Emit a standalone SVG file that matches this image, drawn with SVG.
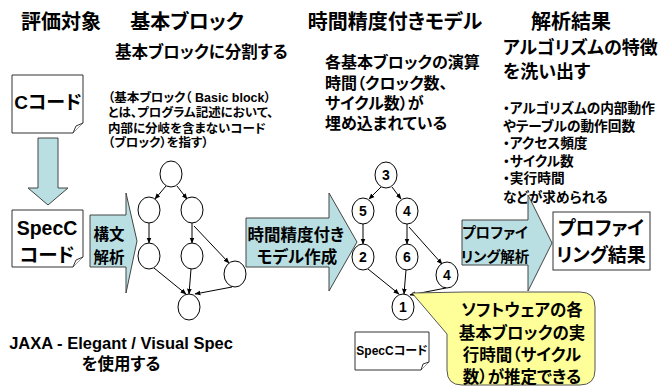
<svg xmlns="http://www.w3.org/2000/svg" width="664" height="389" viewBox="0 0 664 389">
<defs>
<marker id="ah" viewBox="0 0 10 10" refX="9" refY="5" markerWidth="6" markerHeight="6" orient="auto" markerUnits="userSpaceOnUse">
<path d="M0,1 L10,5 L0,9 Z" fill="#000"/>
</marker>
</defs>
<style>
text{font-family:"Liberation Sans","Noto Sans CJK JP",sans-serif;font-weight:bold;fill:#000;font-feature-settings:"palt"}
.c{text-anchor:middle}
.h{font-size:20px}
.doc{fill:#fff;stroke:#333;stroke-width:1}
.arr{fill:#b9dfe3;stroke:#444;stroke-width:1}
.bb{fill:#fff;stroke:#000;stroke-width:1}
.edge{stroke:#000;stroke-width:1;fill:none;marker-end:url(#ah)}
.num{font-size:14px;text-anchor:middle}
</style>
<rect width="664" height="389" fill="#fff"/>

<!-- headers -->
<text class="h c" x="61" y="29">評価対象</text>
<text class="h c" x="187" y="29">基本ブロック</text>
<text class="h c" x="395" y="29">時間精度付きモデル</text>
<text class="h c" x="571" y="29">解析結果</text>

<text x="115" y="58" font-size="16.5">基本ブロックに分割する</text>
<g font-size="12.5">
<text x="108" y="102">（基本ブロック（ Basic block）</text>
<text x="108" y="117">とは、プログラム記述において、</text>
<text x="108" y="133">内部に分岐を含まないコード</text>
<text x="108" y="147">（ブロック）を指す）</text>
</g>
<g font-size="16">
<text x="325" y="68">各基本ブロックの演算</text>
<text x="325" y="89">時間（クロック数、</text>
<text x="325" y="109">サイクル数）が</text>
<text x="325" y="129">埋め込まれている</text>
</g>
<g font-size="18">
<text x="503" y="54">アルゴリズムの特徴</text>
<text x="503" y="78">を洗い出す</text>
</g>
<g font-size="13.7">
<text x="503" y="113">・アルゴリズムの内部動作</text>
<text x="503" y="131">やテーブルの動作回数</text>
<text x="503" y="148">・アクセス頻度</text>
<text x="503" y="166">・サイクル数</text>
<text x="503" y="183">・実行時間</text>
<text x="503" y="202">などが求められる</text>
</g>
<g font-size="16.5">
<text class="c" x="121" y="349">JAXA - Elegant / Visual Spec</text>
<text class="c" x="121" y="370">を使用する</text>
</g>

<!-- documents -->
<g id="c-code">
<path class="doc" d="M12,75 H83 V123 L73,133 H12 Z"/>
<path class="doc" d="M73,133 L76,126 L83,123"/>
<text class="c" x="48" y="109" font-size="19">Cコード</text>
</g>
<g id="convert-arrow">
<path class="arr" d="M38,138 H58 V188 H68 L48,205 L28,188 H38 Z"/>
</g>
<g id="specc-code">
<path class="doc" d="M12,210 H83 V257 L73,267 H12 Z"/>
<path class="doc" d="M73,267 L76,260 L83,257"/>
<text class="c" x="47" y="235" font-size="19.5">SpecC</text>
<text class="c" x="47" y="262" font-size="19.5">コード</text>
</g>

<!-- process arrows -->
<g id="parse-arrow">
<path class="arr" d="M90,215 H126 V193 L137,241 L126,293 V267 H90 Z"/>
<text class="c" x="109" y="240" font-size="15.5">構文</text>
<text class="c" x="109" y="263" font-size="15.5">解析</text>
</g>
<g id="model-arrow">
<path class="arr" d="M246,218 H329 V193 L357,242 L329,291 V267 H246 Z"/>
<text class="c" x="296" y="241" font-size="16.5">時間精度付き</text>
<text class="c" x="297" y="263" font-size="16.5">モデル作成</text>
</g>
<g id="profile-arrow">
<path class="arr" d="M462,220 H528 V195 L552,243 L528,291 V265 H462 Z"/>
<text class="c" x="495" y="238" font-size="14.5">プロファイ</text>
<text class="c" x="495" y="262" font-size="14.5">リング解析</text>
</g>
<g id="profile-result">
<rect class="doc" x="553" y="212" width="97" height="58"/>
<text class="c" x="601" y="235" font-size="19">プロファイ</text>
<text class="c" x="601" y="262" font-size="19">リング結果</text>
</g>

<!-- graph 1 nodes -->
<g id="g1-n1"><ellipse class="bb" cx="171" cy="174" rx="11" ry="13"/></g>
<g id="g1-n2"><ellipse class="bb" cx="149" cy="210" rx="11" ry="13"/></g>
<g id="g1-n3"><ellipse class="bb" cx="192" cy="210" rx="11" ry="13"/></g>
<g id="g1-n4"><ellipse class="bb" cx="149" cy="256" rx="11" ry="13"/></g>
<g id="g1-n5"><ellipse class="bb" cx="192" cy="256" rx="11" ry="13"/></g>
<g id="g1-n6"><ellipse class="bb" cx="235" cy="274" rx="11" ry="13"/></g>
<g id="g1-n7"><ellipse class="bb" cx="189" cy="307" rx="11" ry="13"/></g>

<!-- graph 2 nodes -->
<g id="g2-n1"><ellipse class="bb" cx="386" cy="175" rx="11" ry="13"/><text class="num" x="386" y="180">3</text></g>
<g id="g2-n2"><ellipse class="bb" cx="363" cy="211" rx="11" ry="13"/><text class="num" x="363" y="216">5</text></g>
<g id="g2-n3"><ellipse class="bb" cx="407" cy="211" rx="11" ry="13"/><text class="num" x="407" y="216">4</text></g>
<g id="g2-n4"><ellipse class="bb" cx="363" cy="257" rx="11" ry="13"/><text class="num" x="363" y="262">2</text></g>
<g id="g2-n5"><ellipse class="bb" cx="407" cy="257" rx="11" ry="13"/><text class="num" x="407" y="262">6</text></g>
<g id="g2-n6"><ellipse class="bb" cx="447" cy="275" rx="11" ry="13"/><text class="num" x="447" y="280">4</text></g>
<g id="g2-n7"><ellipse class="bb" cx="403" cy="307" rx="11" ry="13"/><text class="num" x="403" y="312">1</text></g>

<!-- connectors -->
<g id="connectors">
<line class="edge" x1="166" y1="186" x2="155" y2="199"/>
<line class="edge" x1="177" y1="186" x2="187" y2="199"/>
<line class="edge" x1="149" y1="223" x2="149" y2="243"/>
<line class="edge" x1="192" y1="223" x2="192" y2="243"/>
<line class="edge" x1="194" y1="226" x2="229" y2="263"/>
<line class="edge" x1="154" y1="268" x2="186" y2="294"/>
<line class="edge" x1="191" y1="269" x2="189" y2="294"/>
<line class="edge" x1="232" y1="287" x2="195" y2="294"/>

<line class="edge" x1="381" y1="187" x2="369" y2="199"/>
<line class="edge" x1="392" y1="187" x2="401" y2="199"/>
<line class="edge" x1="363" y1="224" x2="363" y2="244"/>
<line class="edge" x1="407" y1="224" x2="407" y2="244"/>
<line class="edge" x1="409" y1="227" x2="442" y2="264"/>
<line class="edge" x1="368" y1="269" x2="399" y2="294"/>
<line class="edge" x1="406" y1="270" x2="404" y2="294"/>
<line class="edge" x1="446" y1="288" x2="410" y2="295"/>
</g>

<!-- small SpecC doc -->
<g id="specc-small">
<path class="doc" d="M355,332 H429 V362 L421,370 H355 Z"/>
<path class="doc" d="M421,370 L423,364 L429,362"/>
<text class="c" x="392" y="355" font-size="12">SpecCコード</text>
</g>

<!-- callout -->
<g id="callout">
<path d="M465,292 H580 Q595,292 595,307 V370 Q595,385 580,385 H462 Q447,385 447,370 V334 L412,293 Z" fill="#ffff99" stroke="#555" stroke-width="1"/>
<g font-size="16.5">
<text class="c" x="522" y="316">ソフトウェアの各</text>
<text class="c" x="522" y="339">基本ブロックの実</text>
<text class="c" x="522" y="361">行時間（サイクル</text>
<text class="c" x="522" y="383">数）が推定できる</text>
</g>
</g>
</svg>
